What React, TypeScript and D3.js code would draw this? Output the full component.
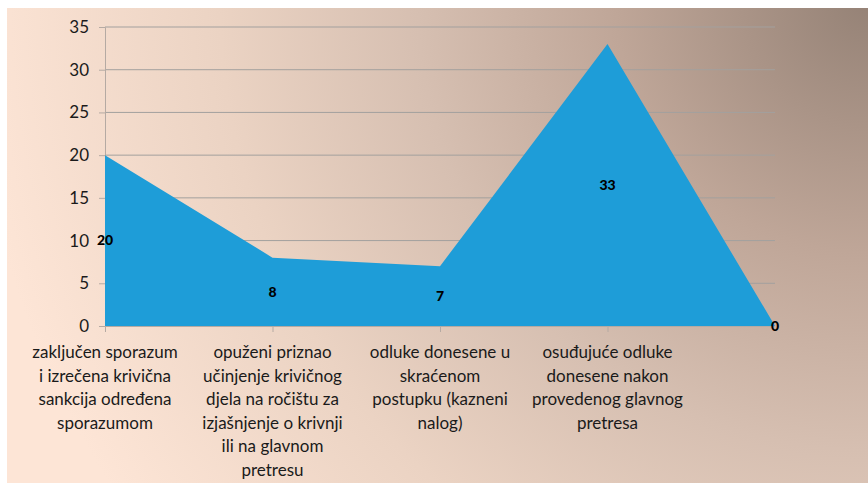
import { useEffect, useRef } from 'react'
import * as d3 from 'd3'

const categories: string[][] = [
  ['zaključen sporazum', 'i izrečena krivična', 'sankcija određena', 'sporazumom'],
  ['opuženi priznao', 'učinjenje krivičnog', 'djela na ročištu za', 'izjašnjenje o krivnji', 'ili na glavnom', 'pretresu'],
  ['odluke donesene u', 'skraćenom', 'postupku (kazneni', 'nalog)'],
  ['osuđujuće odluke', 'donesene nakon', 'provedenog glavnog', 'pretresa'],
  [],
]
const values = [20, 8, 7, 33, 0]
const yTicks = [0, 5, 10, 15, 20, 25, 30, 35]

const W = 868
const H = 485
const PLOT = { left: 105, right: 775, top: 27, bottom: 326 }
const FONT = 'Lato, "Open Sans", sans-serif'

export default function App() {
  const svgRef = useRef<SVGSVGElement>(null)

  useEffect(() => {
    if (!svgRef.current) return
    const svg = d3.select(svgRef.current)
    svg.selectAll('*').remove()

    // Background gradient
    const defs = svg.append('defs')
    const grad = defs.append('radialGradient')
      .attr('id', 'bg')
      .attr('gradientUnits', 'userSpaceOnUse')
      .attr('cx', 868).attr('cy', 0).attr('r', 900)
    const stops: [number, string][] = [
      [0, '#958276'], [0.28, '#bfa698'], [0.5, '#d6bfb1'], [0.72, '#ebd3c3'], [1, '#fde5d6'],
    ]
    stops.forEach(([o, c]) => grad.append('stop').attr('offset', o).attr('stop-color', c))

    svg.append('rect')
      .attr('x', 7).attr('y', 8).attr('width', W - 7).attr('height', 475)
      .attr('fill', 'url(#bg)')

    const x = d3.scalePoint<number>()
      .domain(values.map((_, i) => i))
      .range([PLOT.left, PLOT.right])
    const y = d3.scaleLinear().domain([0, 35]).range([PLOT.bottom, PLOT.top])

    // Gridlines
    svg.append('g').selectAll('line')
      .data(yTicks.filter((t) => t > 0))
      .join('line')
      .attr('x1', PLOT.left).attr('x2', PLOT.right)
      .attr('y1', (t) => y(t)).attr('y2', (t) => y(t))
      .attr('stroke', '#a3a09e').attr('stroke-width', 1)

    // Y axis
    const yAxis = svg.append('g')
      .attr('transform', `translate(${PLOT.left},0)`)
      .call(d3.axisLeft(y).tickValues(yTicks).tickSize(6).tickPadding(10))
    yAxis.select('.domain').attr('stroke', '#b5aaa3')
    yAxis.selectAll('.tick line').attr('stroke', '#b5aaa3')
    yAxis.selectAll('.tick text')
      .attr('font-family', FONT).attr('font-size', 17).attr('fill', '#1a1a1a')

    // Area
    const area = d3.area<number>()
      .x((_, i) => x(i) as number)
      .y0(y(0))
      .y1((v) => y(v))
    svg.append('path')
      .datum(values)
      .attr('d', area)
      .attr('fill', '#1e9dd8')

    // X axis
    svg.append('line')
      .attr('x1', PLOT.left).attr('x2', PLOT.right)
      .attr('y1', y(0) + 0.5).attr('y2', y(0) + 0.5)
      .attr('stroke', '#b5aaa3')
    svg.append('g').selectAll('line')
      .data(values.slice(0, 4).map((_, i) => i))
      .join('line')
      .attr('x1', (i) => (x(i) as number) + 0.5).attr('x2', (i) => (x(i) as number) + 0.5)
      .attr('y1', y(0)).attr('y2', y(0) + 6)
      .attr('stroke', '#b5aaa3')

    // Category labels
    categories.forEach((lines, i) => {
      const t = svg.append('text')
        .attr('text-anchor', 'middle')
        .attr('font-family', FONT).attr('font-size', 17).attr('fill', '#1a1a1a')
      lines.forEach((line, j) => {
        t.append('tspan')
          .attr('x', x(i) as number)
          .attr('y', 358 + j * 23.6)
          .text(line)
      })
    })

    // Data labels
    svg.append('g').selectAll('text')
      .data(values)
      .join('text')
      .attr('x', (_, i) => x(i) as number)
      .attr('y', (v) => y(v / 2))
      .attr('dy', '0.35em')
      .attr('text-anchor', 'middle')
      .attr('font-family', FONT).attr('font-size', 14).attr('font-weight', 900)
      .attr('fill', '#000')
      .text((v) => v)
  }, [])

  return (
    <svg
      ref={svgRef}
      width={W}
      height={H}
      style={{ position: 'absolute', left: 0, top: 0, display: 'block' }}
    />
  )
}
